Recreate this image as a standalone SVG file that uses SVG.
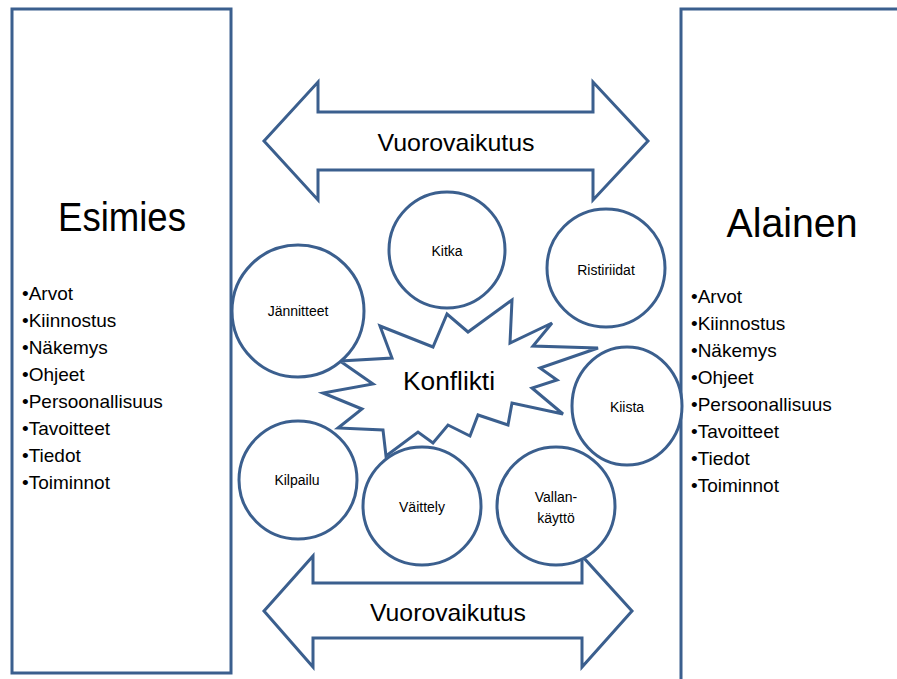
<svg xmlns="http://www.w3.org/2000/svg" width="897" height="679" viewBox="0 0 897 679">
  <style>
    .shape { fill: #ffffff; stroke: #3b5f8e; stroke-width: 3; stroke-linejoin: miter; }
    .title { font-family: "Liberation Sans", Arial, sans-serif; font-size: 40px; fill: #000; text-anchor: middle; }
    .list { font-family: "Liberation Sans", Arial, sans-serif; font-size: 19px; fill: #000; }
    .arrowtxt { font-family: "Liberation Sans", Arial, sans-serif; font-size: 24px; fill: #000; text-anchor: middle; }
    .lbl { font-family: "Liberation Sans", Arial, sans-serif; font-size: 14px; fill: #000; text-anchor: middle; }
    .big { font-family: "Liberation Sans", Arial, sans-serif; font-size: 26px; fill: #000; text-anchor: middle; }
  </style>
  <rect width="897" height="679" fill="#ffffff"/>

  <!-- Superior box -->
  <g id="esimies">
    <rect class="shape" x="12" y="9" width="219" height="664"/>
    <text class="title" x="122" y="231" textLength="128" lengthAdjust="spacingAndGlyphs">Esimies</text>
    <text class="list" x="22" y="300">
      <tspan x="22" dy="0">•Arvot</tspan>
      <tspan x="22" dy="27">•Kiinnostus</tspan>
      <tspan x="22" dy="27">•Näkemys</tspan>
      <tspan x="22" dy="27">•Ohjeet</tspan>
      <tspan x="22" dy="27">•Persoonallisuus</tspan>
      <tspan x="22" dy="27">•Tavoitteet</tspan>
      <tspan x="22" dy="27">•Tiedot</tspan>
      <tspan x="22" dy="27">•Toiminnot</tspan>
    </text>
  </g>

  <!-- Subordinate box -->
  <g id="alainen">
    <rect class="shape" x="681" y="9" width="240" height="690"/>
    <text class="title" x="792" y="237" textLength="131" lengthAdjust="spacingAndGlyphs">Alainen</text>
    <text class="list" x="691" y="303">
      <tspan x="691" dy="0">•Arvot</tspan>
      <tspan x="691" dy="27">•Kiinnostus</tspan>
      <tspan x="691" dy="27">•Näkemys</tspan>
      <tspan x="691" dy="27">•Ohjeet</tspan>
      <tspan x="691" dy="27">•Persoonallisuus</tspan>
      <tspan x="691" dy="27">•Tavoitteet</tspan>
      <tspan x="691" dy="27">•Tiedot</tspan>
      <tspan x="691" dy="27">•Toiminnot</tspan>
    </text>
  </g>

  <!-- Two-way interaction arrows -->
  <g id="connectors">
    <g id="arrow-top">
      <polygon class="shape" points="264,141 318,82 318,112 593,112 593,82 648,141 593,200 593,170 318,170 318,200"/>
      <text class="arrowtxt" x="456" y="151" textLength="157" lengthAdjust="spacingAndGlyphs">Vuorovaikutus</text>
    </g>
    <g id="arrow-bottom">
      <polygon class="shape" points="264,611 313,556 313,583 582,583 582,556 632,611 582,667 582,638 313,638 313,667"/>
      <text class="arrowtxt" x="448" y="621" textLength="156" lengthAdjust="spacingAndGlyphs">Vuorovaikutus</text>
    </g>
  </g>

  <!-- Central conflict burst -->
  <g id="konflikti">
    <polygon class="shape" points="380,326 392,358 340,361 373,384 323,393 362,409 338,428 383,430 386,456 418,432 433,443 448,425 470,436 478,415 508,425 512,403 563,414 532,388 557,380 540,368 598,348 533,346 552,323 510,343 512,300 468,332 447,314 433,347"/>
    <text class="big" x="449" y="390" textLength="92" lengthAdjust="spacingAndGlyphs">Konflikti</text>
  </g>

  <!-- Forms of conflict -->
  <g id="kitka">
    <circle class="shape" cx="447" cy="250" r="58"/>
    <text class="lbl" x="447" y="256">Kitka</text>
  </g>
  <g id="ristiriidat">
    <circle class="shape" cx="606" cy="268" r="59"/>
    <text class="lbl" x="606" y="275">Ristiriidat</text>
  </g>
  <g id="jannitteet">
    <circle class="shape" cx="298" cy="311" r="66"/>
    <text class="lbl" x="298" y="316">Jännitteet</text>
  </g>
  <g id="kiista">
    <ellipse class="shape" cx="627" cy="406" rx="55" ry="59"/>
    <text class="lbl" x="627" y="412">Kiista</text>
  </g>
  <g id="kilpailu">
    <circle class="shape" cx="298" cy="480" r="59"/>
    <text class="lbl" x="297" y="485">Kilpailu</text>
  </g>
  <g id="vaittely">
    <circle class="shape" cx="422" cy="506" r="59"/>
    <text class="lbl" x="422" y="512">Väittely</text>
  </g>
  <g id="vallankaytto">
    <circle class="shape" cx="556" cy="506" r="59"/>
    <text class="lbl" x="556" y="502">Vallan-</text>
    <text class="lbl" x="556" y="523">käyttö</text>
  </g>
</svg>
